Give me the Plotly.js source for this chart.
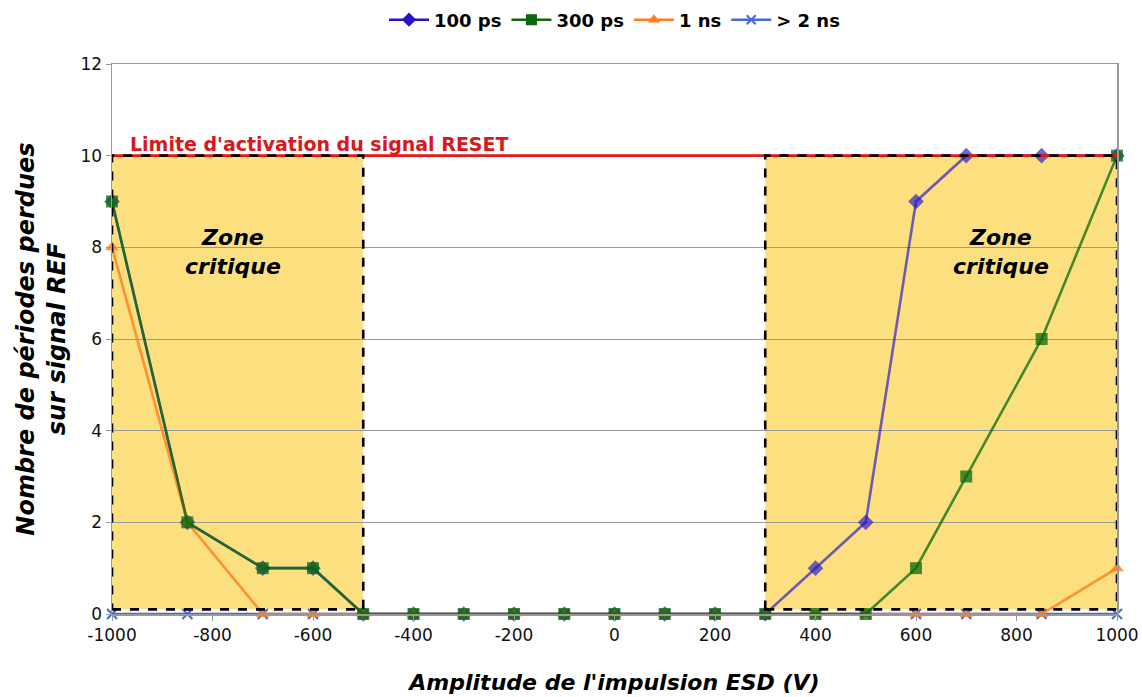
<!DOCTYPE html>
<html><head><meta charset="utf-8">
<script src="https://cdn.plot.ly/plotly-3.0.1.min.js"></script>
<style>body{margin:0;background:#fff}#chart{width:1142px;height:697px}</style>
</head><body><div id="chart"></div>
<script>
const amplitudes = [-1000, -850, -700, -600, -500, -400, -300, -200, -100, 0, 100, 200, 300, 400, 500, 600, 700, 850, 1000];
const ps100 = [9, 2, 1, 1, 0, 0, 0, 0, 0, 0, 0, 0, 0, 1, 2, 9, 10, 10, 10];
const ps300 = [9, 2, 1, 1, 0, 0, 0, 0, 0, 0, 0, 0, 0, 0, 0, 1, 3, 6, 10];
const ns1   = [8, 2, 0, 0, 0, 0, 0, 0, 0, 0, 0, 0, 0, 0, 0, 0, 0, 0, 1];
const ns2   = [0, 0, 0, 0, 0, 0, 0, 0, 0, 0, 0, 0, 0, 0, 0, 0, 0, 0, 0];
const seriesNames = ['100 ps', '300 ps', '1 ns', '> 2 ns'];
const xTickVals = [-1000, -800, -600, -400, -200, 0, 200, 400, 600, 800, 1000];
const xTickText = ['-1000', '-800', '-600', '-400', '-200', '0', '200', '400', '600', '800', '1000'];
const resetLimit = 10;
const resetLabel = "Limite d'activation du signal RESET";
const zoneLeft = [-1000, -500];
const zoneRight = [300, 1000];
const zoneLabel = 'Zone<br>critique';

const F = 'DejaVu Sans, Verdana, sans-serif';
const styles = {
  '100 ps': {rgb: [40, 20, 200], sym: 'diamond', size: 12, a: 0.66},
  '300 ps': {rgb: [10, 105, 10], sym: 'square', size: 12, a: 0.75},
  '1 ns':   {rgb: [255, 125, 30], sym: 'triangle-up', size: 12, a: 0.8},
  '> 2 ns': {rgb: [70, 105, 215], sym: 'x-thin-open', size: 10, a: 1}
};
const rgba = (c, a) => `rgba(${c[0]},${c[1]},${c[2]},${a})`;
function tr(y, name) {
  const s = styles[name];
  const col = rgba(s.rgb, s.a);
  const t = {x: amplitudes, y: y, name: name, type: 'scatter', mode: 'lines+markers',
    line: {color: col, width: 2.6}, marker: {symbol: s.sym, size: s.size, color: col},
    cliponaxis: false, showlegend: false};
  if (s.sym.startsWith('x')) t.marker.line = {color: col, width: 2};
  return t;
}
function legendTr(name) {
  const s = styles[name];
  const col = rgba(s.rgb, 1);
  const t = {x: [null], y: [null], name: name, type: 'scatter', mode: 'lines+markers',
    line: {color: col, width: 2.6}, marker: {symbol: s.sym, size: s.size - 1, color: col}};
  if (s.sym.startsWith('x')) t.marker.line = {color: col, width: 2};
  return t;
}
const data = [
  tr(ns2, '> 2 ns'), tr(ps100, '100 ps'), tr(ns1, '1 ns'), tr(ps300, '300 ps'),
  legendTr('100 ps'), legendTr('300 ps'), legendTr('1 ns'), legendTr('> 2 ns')
];

const zoneShape = (x0, x1) => ({type: 'rect', xref: 'x', yref: 'y', x0: x0, x1: x1, y0: 0.1, y1: resetLimit,
  fillcolor: 'rgb(252,224,128)', line: {width: 0}, layer: 'below'});
const zoneBorder = (x0, x1) => ({type: 'rect', xref: 'x', yref: 'y', x0: x0, x1: x1, y0: 0.1, y1: resetLimit,
  fillcolor: 'rgba(0,0,0,0)', line: {color: '#000', width: 2.6, dash: 'dash'}, layer: 'above'});

const layout = {
  width: 1142, height: 697,
  margin: {l: 112, r: 25, t: 64, b: 83, autoexpand: false},
  paper_bgcolor: '#fff', plot_bgcolor: '#fff',
  font: {family: F, size: 16, color: '#111'},
  showlegend: true,
  legend: {orientation: 'h', x: 0.5, xanchor: 'center', xref: 'paper',
    y: 1 - 20 / 697, yanchor: 'middle', yref: 'container',
    font: {family: F, size: 18, weight: 'bold', color: '#000'}, traceorder: 'normal',
    itemwidth: 40, tracegroupgap: 0},
  xaxis: {range: [-1000, 1000], tickmode: 'array', tickvals: xTickVals, ticktext: xTickText,
    showgrid: false, zeroline: false,
    showline: true, mirror: true, linecolor: '#999', linewidth: 1.5,
    ticks: 'outside', ticklen: 5, tickcolor: '#999',
    tickfont: {family: F, size: 17, color: '#111'},
    title: {text: "Amplitude de l'impulsion ESD (V)", font: {family: F, size: 22, weight: 'bold', style: 'italic', color: '#000'}, standoff: 30}},
  yaxis: {range: [0, 12], dtick: 2, showgrid: true, gridcolor: '#999', gridwidth: 1, zeroline: false,
    showline: true, mirror: true, linecolor: '#999', linewidth: 1.5,
    ticks: 'outside', ticklen: 5, tickcolor: '#999',
    tickfont: {family: F, size: 17, color: '#111'},
    title: {text: 'Nombre de périodes perdues<br>sur signal REF', font: {family: F, size: 24, weight: 'bold', style: 'italic', color: '#000'}, standoff: 8}},
  shapes: [
    zoneShape(zoneLeft[0], zoneLeft[1]), zoneShape(zoneRight[0], zoneRight[1]),
    {type: 'line', xref: 'x', yref: 'y', x0: -1000, x1: 1000, y0: resetLimit, y1: resetLimit,
      line: {color: '#E01818', width: 2.6}, layer: 'above'},
    zoneBorder(zoneLeft[0], zoneLeft[1]), zoneBorder(zoneRight[0], zoneRight[1])
  ],
  annotations: [
    {xref: 'x', yref: 'y', x: -1000, y: resetLimit, xanchor: 'left', yanchor: 'bottom', xshift: 16, yshift: -1,
      text: resetLabel, showarrow: false, font: {family: F, size: 19, weight: 'bold', color: '#D81820'}},
    {xref: 'x', yref: 'y', x: -760, y: 7.9, text: zoneLabel, showarrow: false,
      font: {family: F, size: 22, weight: 'bold', style: 'italic', color: '#000'}},
    {xref: 'x', yref: 'y', x: 770, y: 7.9, text: zoneLabel, showarrow: false,
      font: {family: F, size: 22, weight: 'bold', style: 'italic', color: '#000'}}
  ]
};
Plotly.newPlot('chart', data, layout, {displayModeBar: false, staticPlot: true});
</script></body></html>
